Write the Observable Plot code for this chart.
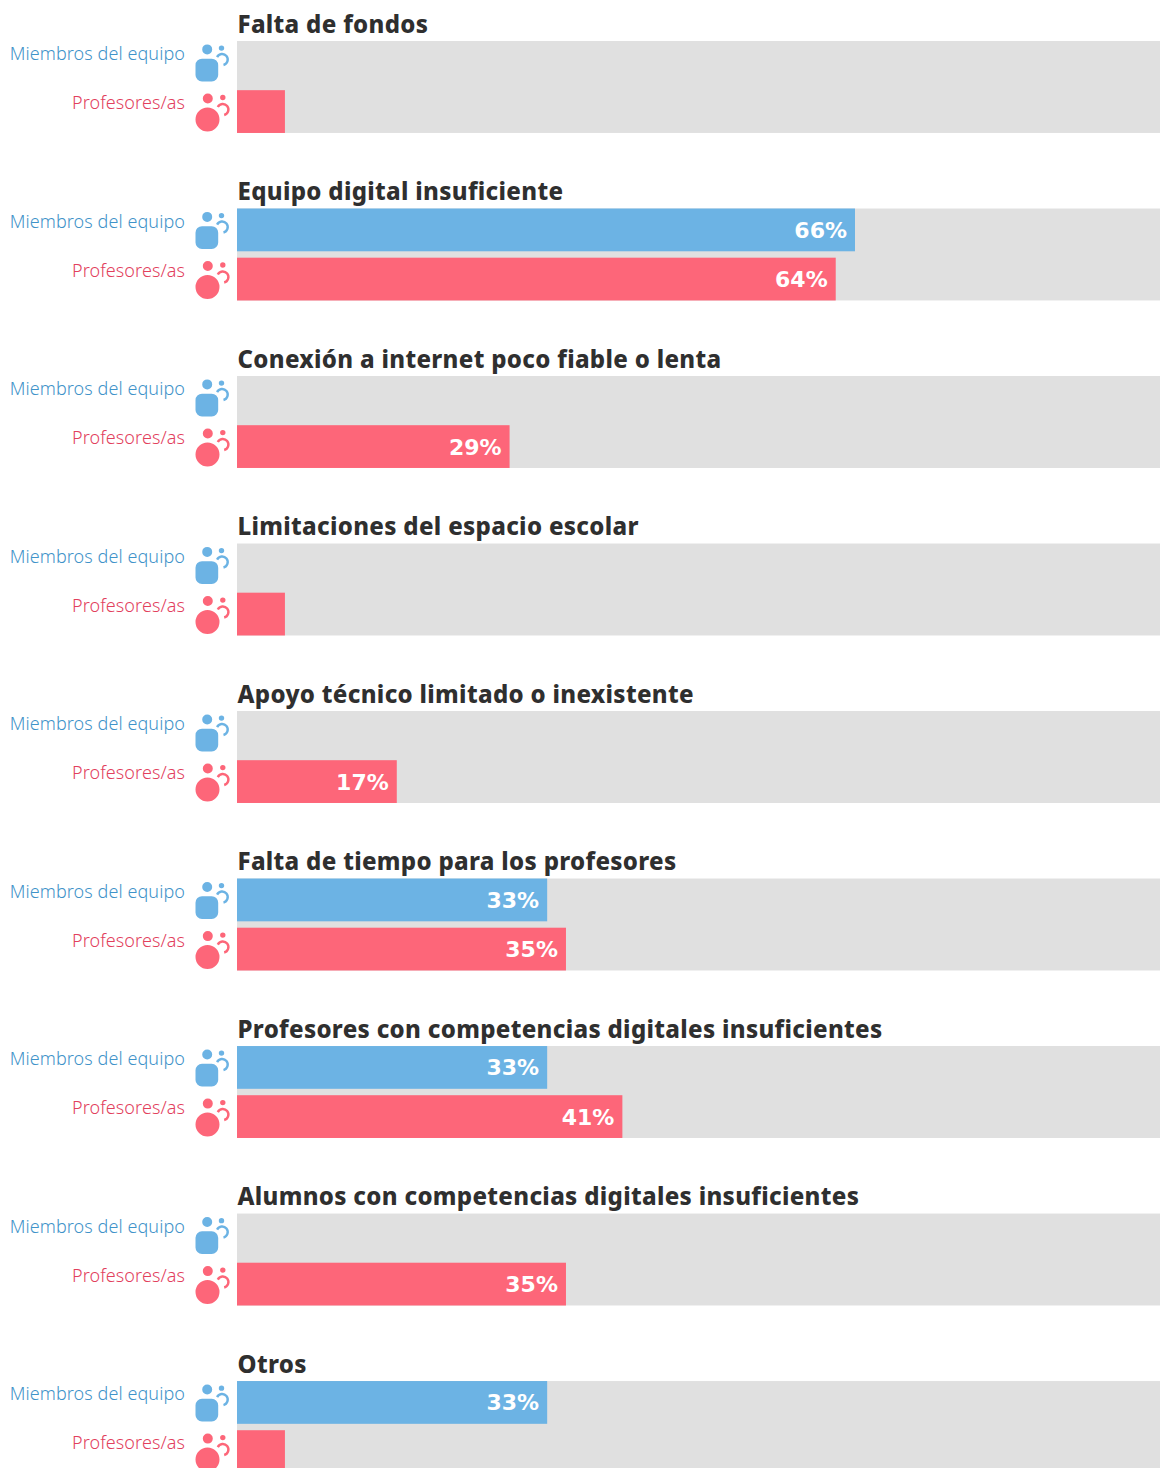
<!DOCTYPE html>
<html lang="es">
<head>
<meta charset="utf-8">
<title>Obstáculos</title>
<script src="https://cdn.jsdelivr.net/npm/d3@7"></script>
<script src="https://cdn.jsdelivr.net/npm/@observablehq/plot@0.6"></script>
<style>
html,body{margin:0;padding:0;background:#fff;overflow:hidden}
svg{display:block;overflow:hidden}
.heading text{letter-spacing:.32px}
.rowlabel text{letter-spacing:.08px}
</style>
</head>
<body>
<div id="chart"></div>
<script>
const categories = [
  "Falta de fondos",
  "Equipo digital insuficiente",
  "Conexión a internet poco fiable o lenta",
  "Limitaciones del espacio escolar",
  "Apoyo técnico limitado o inexistente",
  "Falta de tiempo para los profesores",
  "Profesores con competencias digitales insuficientes",
  "Alumnos con competencias digitales insuficientes",
  "Otros"
];
const groups = ["Miembros del equipo", "Profesores/as"];
const equipoValues = [null, 65.75, null, null, null, 33, 33, null, 33];
const profesoresValues = [5.1, 63.7, 29, 5.1, 17, 35, 41, 35, 5.1];
const labelMinimum = 10;
const trackMax = 98.2;

const colors = {bar: ["#6cb3e4", "#fd6679"], label: ["#3f93c9", "#e2405d"], track: "#e0e0e0", title: "#2f2f2f"};

const rows = categories.flatMap((category, i) => [
  {category, group: groups[0], value: equipoValues[i]},
  {category, group: groups[1], value: profesoresValues[i]}
]);
const bars = rows.filter(d => d.value != null);

const tau = Math.PI * 2;
const rounded = (c, x0, y0, x1, y1, r) => {
  c.moveTo(x0 + r, y0);
  c.arcTo(x1, y0, x1, y1, r);
  c.arcTo(x1, y1, x0, y1, r);
  c.arcTo(x0, y1, x0, y0, r);
  c.arcTo(x0, y0, x1, y0, r);
  c.closePath();
};
const disc = (c, x, y, r) => { c.moveTo(x + r, y); c.arc(x, y, r, 0, tau); c.closePath(); };
const equipoIcon = {draw(c) {
  disc(c, -0.3, -13.5, 5);
  disc(c, 14, -14.8, 2.7);
  rounded(c, -12, -4.2, 10.7, 18.5, 6.5);
}};
const profesorIcon = {draw(c) {
  disc(c, 0.3, -13.5, 5);
  disc(c, 15.3, -14.5, 2.7);
  disc(c, 0, 7.5, 12);
}};
const arcOf = (x, y) => ({draw(c) {
  const a0 = -2.68, a1 = 1.32, r = 5.6;
  c.moveTo(x + r * Math.cos(a0), y + r * Math.sin(a0));
  c.arc(x, y, r, a0, a1);
}});

const iconMarks = (group, icon, arc, color) => {
  const d = rows.filter(r => r.group === group);
  return [
    Plot.dot(d, {x: () => 0, y: "group", fy: "category", r: 5, dx: -30, symbol: () => icon, fill: color, stroke: "none"}),
    Plot.dot(d, {x: () => 0, y: "group", fy: "category", r: 5, dx: -30, symbol: () => arc, fill: "none", stroke: color, strokeWidth: 2.4})
  ];
};

const chart = Plot.plot({
  width: 1160,
  height: 1468,
  marginLeft: 237,
  marginRight: 0,
  marginTop: 41,
  marginBottom: -5,
  x: {domain: [0, trackMax], axis: null},
  y: {domain: groups, axis: null, paddingInner: 0.13, paddingOuter: 0, round: false},
  fy: {domain: categories, axis: null, paddingInner: 0.451, paddingOuter: 0, round: false, label: null},
  color: {domain: groups, range: colors.bar},
  style: {background: "#fff", overflow: "hidden"},
  marks: [
    Plot.barX(categories, {x1: () => 0, x2: () => trackMax, fy: d => d, fill: colors.track}),
    Plot.barX(bars, {x: "value", y: "group", fy: "category", fill: "group"}),
    Plot.text(bars.filter(d => d.value >= labelMinimum), {
      x: "value", y: "group", fy: "category", text: d => `${Math.round(d.value)}%`,
      textAnchor: "end", dx: -8.5, dy: 0.5, fill: "#fff", fontSize: 22, fontWeight: 700, fontFamily: "DejaVu Sans"
    }),
    Plot.text(rows, {
      x: () => 0, y: "group", fy: "category", text: "group", textAnchor: "end", dx: -52.5, dy: -8.5,
      fill: d => colors.label[groups.indexOf(d.group)], fontSize: 18, fontWeight: 300, fontFamily: "Noto Sans", className: "rowlabel"
    }),
    ...iconMarks(groups[0], equipoIcon, arcOf(14.6, -3.3), colors.bar[0]),
    ...iconMarks(groups[1], profesorIcon, arcOf(15.3, -2.5), colors.bar[1]),
    Plot.text(categories, {
      x: () => 0, y: () => groups[0], fy: d => d, text: d => d, textAnchor: "start", dx: 0, dy: -38,
      fill: colors.title, fontSize: 24, fontWeight: 800, fontFamily: "Noto Sans", className: "heading"
    })
  ]
});
document.getElementById("chart").append(chart);
</script>
</body>
</html>
